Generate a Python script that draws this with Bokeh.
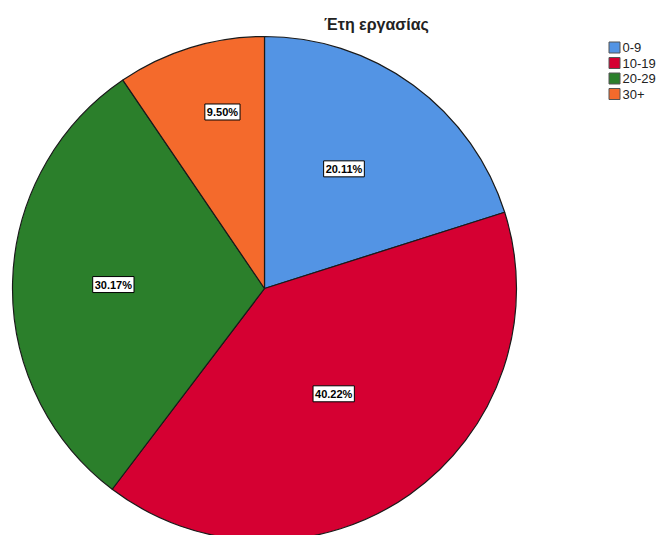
import math
from bokeh.plotting import figure
from bokeh.models import ColumnDataSource, Range1d
from bokeh.core.properties import value
from bokeh.embed import file_html
from bokeh.resources import INLINE

# ---- data ----
categories = ["0-9", "10-19", "20-29", "30+"]
percents = [20.11, 40.22, 30.17, 9.50]
title_text = "Έτη εργασίας"

# ---- styles ----
colors = ["#5394E4", "#D50032", "#2B7F2B", "#F46A2C"]
label_radius_frac = [0.57, 0.50, 0.60, 0.72]
label_angle_shift_deg = [2.6, -1.9, 0.0, -3.7]

W, H = 660, 535
cx, cy, R = 264, 247, 252

p = figure(width=W, height=H, output_backend="svg", toolbar_location=None,
           x_range=Range1d(0, W), y_range=Range1d(0, H), min_border=0)
p.axis.visible = False
p.grid.visible = False
p.outline_line_color = None
p.background_fill_color = "white"

total = sum(percents)
starts, ends, lx, ly, labels = [], [], [], [], []
cum = 0.0
for i, v in enumerate(percents):
    a0 = math.pi / 2 - 2 * math.pi * cum / total
    cum += v
    a1 = math.pi / 2 - 2 * math.pi * cum / total
    starts.append(a1)
    ends.append(a0)
    mid = (a0 + a1) / 2 + math.radians(label_angle_shift_deg[i])
    r = R * label_radius_frac[i]
    lx.append(cx + r * math.cos(mid))
    ly.append(cy + r * math.sin(mid))
    labels.append(f"{v:.2f}%")

src = ColumnDataSource(dict(start=starts, end=ends, color=colors, cat=categories))
p.wedge(x=cx, y=cy, radius=R, radius_units="data", start_angle="start", end_angle="end",
        fill_color="color", line_color="#1a1a1a", line_width=1.2, source=src)

# labels with boxes
lsrc = ColumnDataSource(dict(x=lx, y=ly, t=labels))
p.text(x="x", y="y", text="t", source=lsrc, text_align="center", text_baseline="middle",
       text_font=value("Liberation Sans"), text_font_size="11px", text_font_style="bold",
       text_color="black", background_fill_color="white", border_line_color="black",
       border_line_width=1, padding=2)

# title
p.text(x=[376], y=[H - 24], text=[title_text], text_align="center", text_baseline="middle",
       text_font=value("Liberation Sans"), text_font_size="16px", text_font_style="bold",
       text_color="#222222")

# legend
lg_x0 = 608
lg_y0 = H - 47
step = 15.5
ys = [lg_y0 - i * step for i in range(len(categories))]
p.rect(x=[lg_x0 + 6] * len(categories), y=ys, width=11, height=11,
       fill_color=colors, line_color="#555555", line_width=1)
p.text(x=[lg_x0 + 14] * len(categories), y=ys, text=categories, text_align="left",
       text_baseline="middle", text_font=value("Liberation Sans"), text_font_size="13px",
       text_color="#222222")

open("out.html", "w").write(file_html(p, INLINE))
